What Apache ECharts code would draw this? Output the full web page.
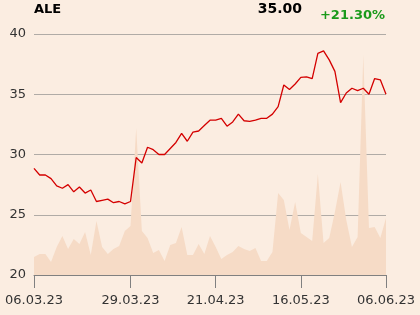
<!DOCTYPE html>
<html><head><meta charset="utf-8">
<script src="https://cdn.jsdelivr.net/npm/echarts@6/dist/echarts.min.js"></script>
<style>html,body{margin:0;padding:0;background:#fbede1;}#c{width:420px;height:315px;}</style>
</head><body><div id="c"></div>
<script>
const dates = ["06.03.23","07.03.23","08.03.23","09.03.23","10.03.23","13.03.23","14.03.23","15.03.23","16.03.23","17.03.23",
"20.03.23","21.03.23","22.03.23","23.03.23","24.03.23","27.03.23","28.03.23","29.03.23","30.03.23","31.03.23",
"03.04.23","04.04.23","05.04.23","06.04.23","11.04.23","12.04.23","13.04.23","14.04.23","17.04.23","18.04.23",
"19.04.23","20.04.23","21.04.23","24.04.23","25.04.23","26.04.23","27.04.23","28.04.23","02.05.23","04.05.23",
"05.05.23","08.05.23","09.05.23","10.05.23","11.05.23","12.05.23","15.05.23","16.05.23","17.05.23","18.05.23",
"19.05.23","22.05.23","23.05.23","24.05.23","25.05.23","26.05.23","29.05.23","30.05.23","31.05.23","01.06.23",
"02.06.23","05.06.23","06.06.23"];
const prices = [28.85,28.3,28.3,28.0,27.4,27.2,27.5,26.9,27.3,26.8,
27.05,26.1,26.2,26.3,26.0,26.1,25.9,26.1,29.75,29.3,
30.6,30.4,30.0,30.0,30.5,31.0,31.75,31.1,31.85,31.95,
32.4,32.85,32.85,33.0,32.35,32.7,33.35,32.8,32.75,32.85,
33.0,33.0,33.35,33.97,35.77,35.4,35.85,36.4,36.45,36.3,
38.4,38.6,37.85,36.9,34.3,35.1,35.5,35.3,35.5,35.0,
36.3,36.2,35.0];
const volumes = [18,21,21,13,28,39,26,36,31,43,
20,54,28,21,26,29,44,49,147,44,
37,22,25,14,30,32,48,20,20,31,
21,39,28,16,20,23,29,26,24,27,
14,14,23,82,75,45,73,42,38,34,
101,32,37,63,93,55,28,38,220,47,
48,37,57];
const tickLabelIdx = [0,17,32,47,62];
const yTicks = [20,25,30,35,40];
const ticker = "ALE";
const lastPrice = "35.00";
const change = "+21.30%";

const chart = echarts.init(document.getElementById('c'), null, {renderer:'canvas'});
const font = "DejaVu Sans";
chart.setOption({
  backgroundColor:'#fbede1',
  animation:false,
  grid:{left:34,right:34,top:34,bottom:40},
  graphic:[
    {type:'text',left:34,top:3,style:{text:ticker,font:'bold 13px "DejaVu Sans"',fill:'#000'}},
    {type:'text',right:118,top:2,style:{text:lastPrice,font:'bold 14px "DejaVu Sans"',fill:'#000'}},
    {type:'text',right:35,top:9,style:{text:change,font:'bold 13px "DejaVu Sans"',fill:'#1a9a1a'}}
  ],
  xAxis:{type:'category',data:dates,boundaryGap:false,
    axisLine:{lineStyle:{color:'#808080',width:1}},
    axisTick:{length:13,lineStyle:{color:'#808080'},interval:(i)=>tickLabelIdx.includes(i)},
    axisLabel:{interval:(i)=>tickLabelIdx.includes(i),color:'#333',fontFamily:font,fontSize:13,margin:19},
    splitLine:{show:false}},
  yAxis:[
    {type:'value',min:yTicks[0],max:yTicks[yTicks.length-1],interval:5,
     axisLine:{show:false},axisTick:{show:false},
     axisLabel:{color:'#333',fontFamily:font,fontSize:13,margin:8},
     splitLine:{lineStyle:{color:'#b0aba6',width:1}}},
    {type:'value',min:0,max:241,show:false,splitLine:{show:false}}
  ],
  series:[
    {type:'line',yAxisIndex:1,data:volumes,symbol:'none',z:1,
     lineStyle:{width:0},areaStyle:{color:'#f6dbc6',opacity:1}},
    {type:'line',data:prices,symbol:'none',z:3,
     lineStyle:{color:'#d40000',width:1.3}}
  ]
});
</script></body></html>
